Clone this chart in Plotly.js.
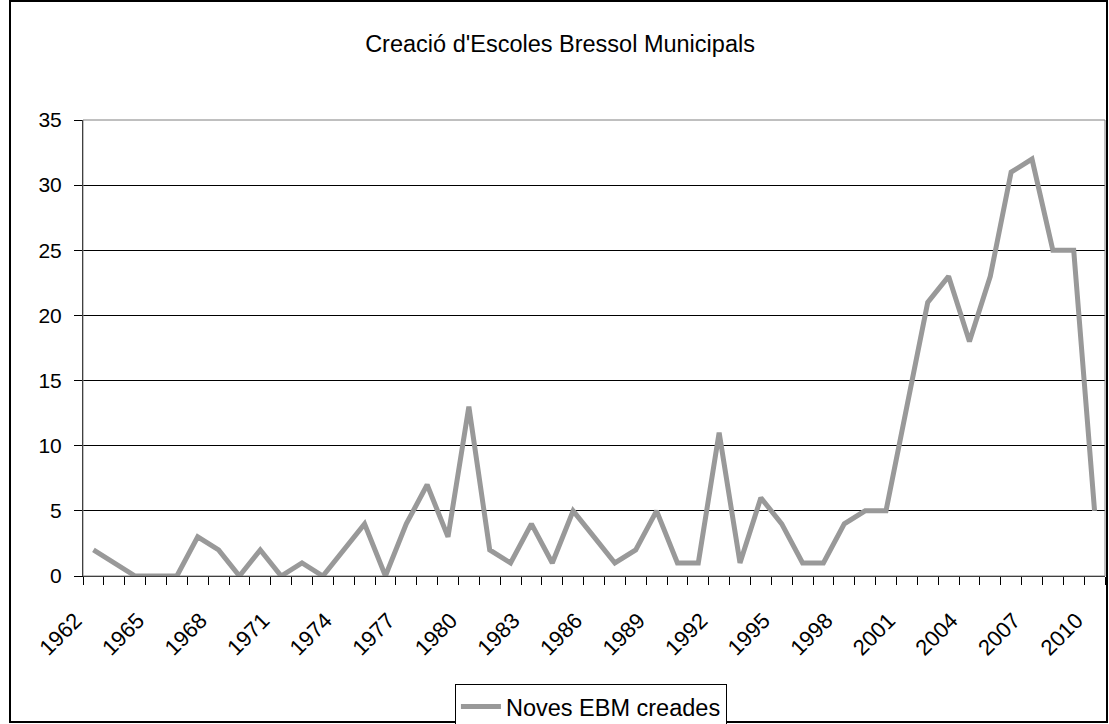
<!DOCTYPE html>
<html>
<head>
<meta charset="utf-8">
<script src="https://cdn.plot.ly/plotly-3.0.1.min.js"></script>
<style>
  html, body { margin: 0; padding: 0; background: #ffffff; }
  #chart { width: 1109px; height: 724px; }
</style>
</head>
<body>
<div id="chart"></div>
<script>
// Years (categories)
const years = [
  1962, 1963, 1964, 1965, 1966, 1967, 1968, 1969, 1970, 1971,
  1972, 1973, 1974, 1975, 1976, 1977, 1978, 1979, 1980, 1981,
  1982, 1983, 1984, 1985, 1986, 1987, 1988, 1989, 1990, 1991,
  1992, 1993, 1994, 1995, 1996, 1997, 1998, 1999, 2000, 2001,
  2002, 2003, 2004, 2005, 2006, 2007, 2008, 2009, 2010
];
// Noves EBM creades per year
const novesEBM = [
  2, 1, 0, 0, 0, 3, 2, 0, 2, 0,
  1, 0, 2, 4, 0, 4, 7, 3, 13, 2,
  1, 4, 1, 5, 3, 1, 2, 5, 1, 1,
  11, 1, 6, 4, 1, 1, 4, 5, 5, 13,
  21, 23, 18, 23, 31, 32, 25, 25, 5
];
// Tick labels shown on the x axis (every third year)
const xTickYears = [1962, 1965, 1968, 1971, 1974, 1977, 1980, 1983, 1986, 1989, 1992, 1995, 1998, 2001, 2004, 2007, 2010];
const seriesName = 'Noves EBM creades';
const chartTitle = "Creació d'Escoles Bressol Municipals";

const FONT = 'Liberation Sans, Arial, sans-serif';

const trace = {
  x: years,
  y: novesEBM,
  type: 'scatter',
  mode: 'lines',
  name: seriesName,
  line: { color: '#999999', width: 5 },
  hoverinfo: 'x+y'
};

const layout = {
  width: 1109,
  height: 724,
  margin: { l: 83, r: 4, t: 120, b: 148, autoexpand: false },
  paper_bgcolor: '#ffffff',
  plot_bgcolor: '#ffffff',
  font: { family: FONT, size: 21, color: '#000000' },
  title: {
    text: chartTitle,
    font: { family: FONT, size: 23.5, color: '#000000' },
    x: 0.505, xref: 'container', xanchor: 'center',
    y: 0.939, yref: 'container', yanchor: 'middle'
  },
  showlegend: true,
  legend: {
    orientation: 'h',
    x: 0.497, xanchor: 'center',
    y: -0.236, yanchor: 'top',
    bordercolor: '#000000',
    borderwidth: 1,
    bgcolor: '#ffffff',
    itemwidth: 40,
    font: { family: FONT, size: 23.5, color: '#000000' }
  },
  xaxis: {
    range: [years[0] - 0.5, years[years.length - 1] + 0.5],
    tickmode: 'array',
    tickvals: xTickYears,
    ticktext: xTickYears.map(String),
    tickangle: -45,
    ticks: '',
    ticklabelstandoff: 22,
    ticklabelshift: -18,
    showgrid: false,
    zeroline: false,
    showline: true,
    linecolor: '#000000',
    linewidth: 1,
    tickfont: { family: FONT, size: 22, color: '#000000' },
    minor: {
      tick0: years[0] - 0.5,
      dtick: 1,
      ticks: 'outside',
      ticklen: 8,
      tickcolor: '#000000',
      tickwidth: 1,
      showgrid: false
    },
    fixedrange: true
  },
  yaxis: {
    range: [0, 35],
    tick0: 0,
    dtick: 5,
    ticks: 'outside',
    ticklen: 8,
    tickcolor: '#000000',
    tickwidth: 1,
    showgrid: true,
    gridcolor: '#000000',
    gridwidth: 1,
    zeroline: false,
    showline: true,
    linecolor: '#000000',
    linewidth: 1,
    ticklabelstandoff: 8,
    tickfont: { family: FONT, size: 21, color: '#000000' },
    fixedrange: true
  },
  shapes: [
    {
      type: 'rect', xref: 'paper', yref: 'paper',
      x0: 0, x1: 1, y0: 0, y1: 1,
      line: { color: '#808080', width: 1 },
      layer: 'above'
    },
    {
      type: 'rect', xref: 'paper', yref: 'paper',
      x0: (10 - 83) / 1022, x1: (1107 - 83) / 1022,
      y0: (576 - 722) / 456, y1: (576 - 1) / 456,
      line: { color: '#000000', width: 2 },
      layer: 'below'
    }
  ]
};

Plotly.newPlot('chart', [trace], layout, { displayModeBar: false, staticPlot: true });
</script>
</body>
</html>
